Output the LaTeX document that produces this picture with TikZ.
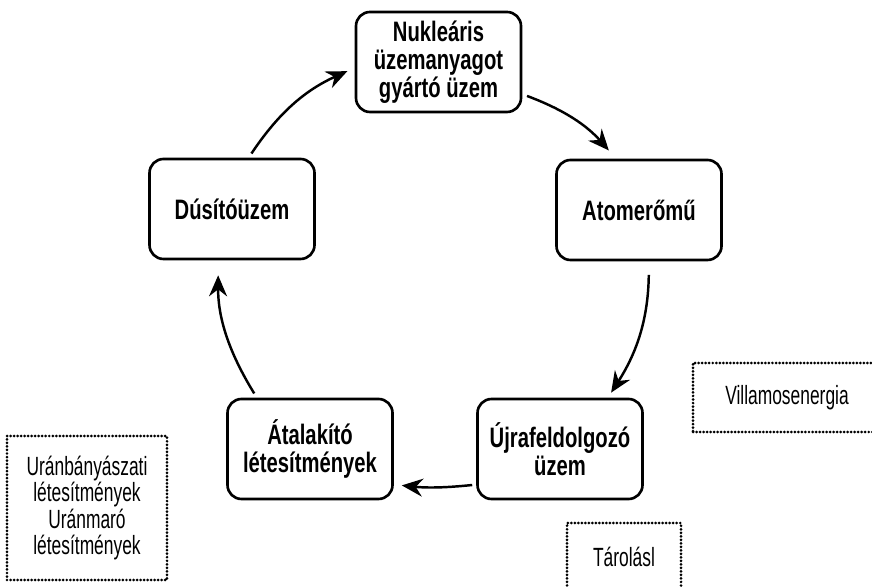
\documentclass[tikz,border=0pt]{standalone}
\usepackage{fontspec}
\setmainfont{Liberation Sans}[FakeStretch=0.72]
\newfontfamily\notefont{Liberation Sans}[FakeStretch=0.66]
\usetikzlibrary{arrows.meta}

\tikzset{
  stage/.style={draw, line width=1.5pt, rounded corners=0.28cm,
    minimum width=3.3cm, minimum height=2cm, align=center, inner sep=2pt,
    font=\fontsize{16}{16}\selectfont\bfseries},
  note/.style={draw, line width=1.7pt, dash pattern=on 0pt off 2pt,
    line cap=round, align=center, inner sep=0pt,
    font=\notefont\fontsize{15}{15}\selectfont},
  flow/.style={-{Stealth[length=4.2mm,width=3.6mm,inset=1.4mm]}, line width=1.4pt}
}

\begin{document}
\begin{tikzpicture}
        % Keret
        \useasboundingbox (0,0) rectangle (17.44,11.72);
        \clip (0,0) rectangle (17.44,11.72);
        % A ciklus dobozai
        \node[stage] (nuk) at (8.77,10.48) {Nukleáris\\üzemanyagot\\gyártó üzem};
        \node[stage] (atom) at (12.78,7.52) {Atomerőmű};
        \node[stage] (ujra) at (11.2,2.74) {Újrafeldolgozó\\üzem};
        \node[stage] (atal) at (6.2,2.74) {Átalakító\\létesítmények};
        \node[stage] (dus) at (4.64,7.54) {Dúsítóüzem};
        % Pontozott dobozok
        \node[note, minimum width=3.2cm, minimum height=2.88cm] (uran) at (1.74,1.56)
            {Uránbányászati\\létesítmények\\Uránmaró\\létesítmények};
        \node[note, minimum width=3.76cm, minimum height=1.38cm] (villa) at (15.74,3.77) {Villamosenergia};
        \node[note, minimum width=2.28cm, minimum height=1.36cm] (taro) at (12.48,0.58) {Tárolásl};
        % Nyilak
        \draw[flow, shorten <=0.1cm, shorten >=0.16cm] (dus.72) to[bend left=16] (nuk.184);
        \draw[flow, shorten <=0.1cm, shorten >=0.22cm] (nuk.339) to[bend left=14] (atom.114);
        \draw[flow, shorten <=0.27cm, shorten >=0.12cm] (atom.281) to[bend left=16] (ujra.47);
        \draw[flow, shorten <=0.08cm, shorten >=0.16cm] (ujra.203) to[bend left=6] (atal.337);
        \draw[flow, shorten <=0.1cm, shorten >=0.3cm] (atal.136) to[bend left=16] (dus.255);
\end{tikzpicture}
\end{document}
